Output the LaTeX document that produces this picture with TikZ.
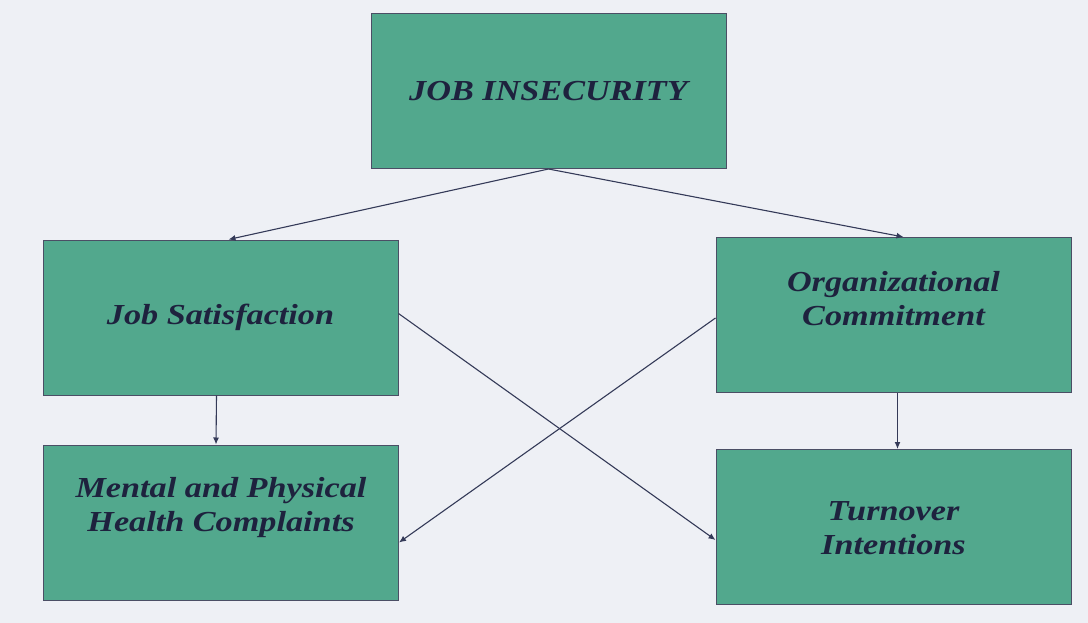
\documentclass[tikz,border=0pt]{standalone}
\usepackage{fontspec}
\usepackage{graphicx}
\setmainfont{Liberation Serif}
\usetikzlibrary{arrows.meta,positioning,calc}
\definecolor{boxfill}{RGB}{82,168,141}
\definecolor{paper}{RGB}{238,240,245}
\definecolor{ink}{RGB}{30,34,62}
\definecolor{wire}{RGB}{52,58,88}
\newcommand\wide[1]{\scalebox{1.18}[1]{#1}}

\begin{document}
\begin{tikzpicture}
[x=1pt,y=-1pt,font=\fontsize{29}{34}\selectfont\bfseries\itshape,
box/.style={draw=ink!80,line width=1pt,fill=boxfill,minimum width=355pt,minimum height=155pt,inner sep=0pt},
txt/.style={text=ink,align=center},
edge/.style={wire,line width=1.1pt,-{Latex[length=7pt,width=6pt]}}]
%%%%%%%%%%

\fill[paper] (0,0) rectangle (1088,623);
\useasboundingbox (0,0) rectangle (1088,623);

\node[box,label={[txt]center:\wide{JOB INSECURITY}}] (insec) at (548.5,91) {};
\node[box,label={[txt]center:\wide{Job Satisfaction}}] (satis) at (220.5,317.5) {};
\node[box,label={[txt,yshift=16pt]center:\wide{Organizational}\\\wide{Commitment}}] (commit) at (893.5,315) {};
\node[box,label={[txt,yshift=15pt]center:\wide{Mental and Physical}\\\wide{Health Complaints}}] (health) at (221,522.5) {};
\node[box,label={[txt,yshift=-1pt]center:\wide{Turnover}\\\wide{Intentions}}] (turnover) at (893.5,527) {};

\draw[edge] (insec.south) -- ([xshift=8pt]satis.north);
\draw[edge] (insec.south) -- ([xshift=10pt]commit.north);
\draw[edge] ([xshift=-4pt]satis.south) -- ([xshift=-5pt]health.north);
\draw[edge] ([xshift=4pt]commit.south) -- ([xshift=4pt]turnover.north);
\draw[edge] ([yshift=4pt]satis.east) -- ([yshift=-13pt]turnover.west);
\draw[edge] ([yshift=-3pt]commit.west) -- ([yshift=-20pt]health.east);
\end{tikzpicture}
\end{document}
